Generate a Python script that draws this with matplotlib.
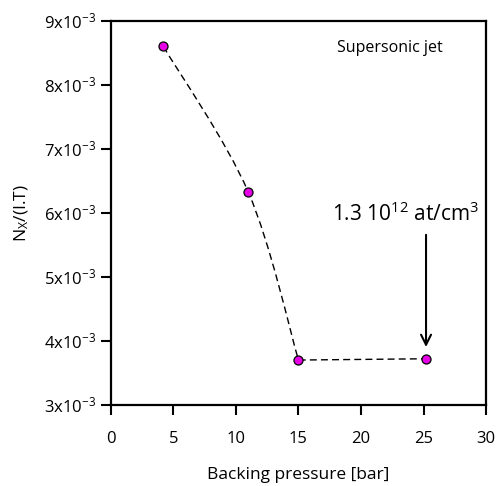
import numpy as np
import matplotlib.pyplot as plt
from matplotlib.path import Path
from matplotlib.patches import PathPatch

plt.rcParams['font.family'] = ['Open Sans', 'DejaVu Sans']
plt.rcParams['mathtext.fontset'] = 'custom'
plt.rcParams['mathtext.rm'] = 'Open Sans'
plt.rcParams['mathtext.it'] = 'Open Sans'

# data
pressure = [4.2, 11.0, 15.0, 25.2]
signal = [8.6e-3, 6.32e-3, 3.7e-3, 3.72e-3]
x_ticks = [0, 5, 10, 15, 20, 25, 30]
y_ticks = [3e-3, 4e-3, 5e-3, 6e-3, 7e-3, 8e-3, 9e-3]
y_ticklabels = [r'%dx10$^{-3}$' % v for v in range(3, 10)]

fig = plt.figure(figsize=(4.97, 4.86), dpi=100)
ax = fig.add_axes([0.223, 0.167, 0.755, 0.79])

ax.set_xlim(0, 30)
ax.set_ylim(3e-3, 9e-3)

# smooth dashed curve through the first three points (Catmull-Rom as bezier), straight last segment
pts = np.column_stack([pressure, signal])
verts = [tuple(pts[0])]
codes = [Path.MOVETO]
for i in range(2):
    p0 = pts[max(i - 1, 0)]
    p1 = pts[i]
    p2 = pts[i + 1]
    p3 = pts[min(i + 2, 2)]
    c1 = p1 + (p2 - p0) / 6
    c2 = p2 - (p3 - p1) / 6
    verts += [tuple(c1), tuple(c2), tuple(p2)]
    codes += [Path.CURVE4] * 3
verts.append(tuple(pts[3]))
codes.append(Path.LINETO)
ax.add_patch(PathPatch(Path(verts, codes), fill=False, ls=(0, (5, 3)), lw=1.0, ec='black'))

ax.plot(pressure, signal, 'o', ms=6.5, mfc='#e600e6', mec='black', mew=0.9, zorder=3)

ax.set_xticks(x_ticks)
ax.set_yticks(y_ticks)
ax.set_yticklabels(y_ticklabels)
ax.tick_params(direction='out', length=7, width=1.5, labelsize=12)
ax.tick_params(axis='x', pad=12)
ax.tick_params(axis='y', pad=4)
for s in ax.spines.values():
    s.set_linewidth(1.6)

ax.set_xlabel('Backing pressure [bar]', fontsize=12.5, labelpad=14)
ax.set_ylabel(r'N$_{\mathrm{X}}$/(I.T)', fontsize=12.5, labelpad=9)

ax.text(22.3, 8.58e-3, 'Supersonic jet', ha='center', va='center', fontsize=11.5)
ax.annotate('', xy=(25.2, 3.86e-3), xytext=(25.2, 5.70e-3),
            arrowprops=dict(arrowstyle='->', lw=1.5, color='black', mutation_scale=18))
ax.text(23.6, 5.98e-3, r'1.3 10$^{12}$ at/cm$^{3}$', ha='center', va='center', fontsize=15)

plt.savefig('out.png', dpi=100)
